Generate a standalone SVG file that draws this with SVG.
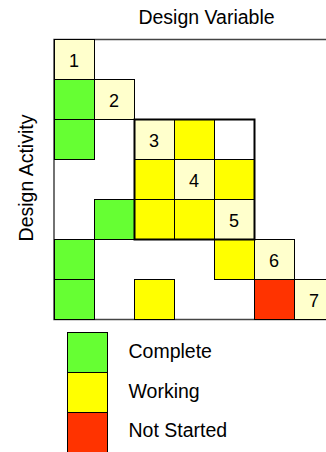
<svg xmlns="http://www.w3.org/2000/svg" width="326" height="452" viewBox="0 0 326 452">
<style>
.c{stroke:#000;stroke-width:1}
.d{fill:#FFFFCC}
.g{fill:#66FF33}
.y{fill:#FFFF00}
.r{fill:#FF3300}
.n{font-family:"Liberation Sans",Arial,sans-serif;font-size:18px;fill:#000;text-anchor:middle}
.t{font-family:"Liberation Sans",Arial,sans-serif;font-size:19.5px;fill:#000}
</style>
<rect width="326" height="452" fill="#fff"/>
<text class="t" x="206.5" y="24" text-anchor="middle">Design Variable</text>
<text class="t" transform="translate(32.5,178) rotate(-90)" text-anchor="middle">Design Activity</text>
<g id="frame">
<rect x="54" y="39.5" width="290" height="280" fill="none" stroke="#444" stroke-width="1.5"/>
</g>
<g id="cells">
<g id="n1"><rect class="c d" x="54.5" y="39.5" width="40" height="40"/><text class="n" x="74" y="66.5">1</text></g>
<g id="n2"><rect class="c d" x="94.5" y="79.5" width="40" height="40"/><text class="n" x="114" y="106.5">2</text></g>
<g id="n3"><rect class="c d" x="134.5" y="119.5" width="40" height="40"/><text class="n" x="154" y="146.5">3</text></g>
<g id="n4"><rect class="c d" x="174.5" y="159.5" width="40" height="40"/><text class="n" x="194" y="186.5">4</text></g>
<g id="n5"><rect class="c d" x="214.5" y="199.5" width="40" height="40"/><text class="n" x="234" y="226.5">5</text></g>
<g id="n6"><rect class="c d" x="254.5" y="239.5" width="40" height="40"/><text class="n" x="274" y="266.5">6</text></g>
<g id="n7"><rect class="c d" x="294.5" y="279.5" width="40" height="40"/><text class="n" x="314" y="306.5">7</text></g>
<g id="marks">
<rect class="c g" x="54.5" y="79.5" width="40" height="40"/>
<rect class="c g" x="54.5" y="119.5" width="40" height="40"/>
<rect class="c y" x="174.5" y="119.5" width="40" height="40"/>
<rect class="c y" x="134.5" y="159.5" width="40" height="40"/>
<rect class="c y" x="214.5" y="159.5" width="40" height="40"/>
<rect class="c g" x="94.5" y="199.5" width="40" height="40"/>
<rect class="c y" x="134.5" y="199.5" width="40" height="40"/>
<rect class="c y" x="174.5" y="199.5" width="40" height="40"/>
<rect class="c g" x="54.5" y="239.5" width="40" height="40"/>
<rect class="c y" x="214.5" y="239.5" width="40" height="40"/>
<rect class="c g" x="54.5" y="279.5" width="40" height="40"/>
<rect class="c y" x="134.5" y="279.5" width="40" height="40"/>
<rect class="c r" x="254.5" y="279.5" width="40" height="40"/>
</g>
<rect id="block" x="134.5" y="119.5" width="120" height="120" fill="none" stroke="#000" stroke-width="2"/>
</g>
<g id="legend">
<rect class="c g" x="67.5" y="332.5" width="40" height="40"/>
<rect class="c y" x="67.5" y="372.5" width="40" height="40"/>
<rect class="c r" x="67.5" y="412.5" width="40" height="40"/>
<text class="t" x="128.5" y="358">Complete</text>
<text class="t" x="128.5" y="397.5">Working</text>
<text class="t" x="128.5" y="436.5">Not Started</text>
</g>
</svg>
